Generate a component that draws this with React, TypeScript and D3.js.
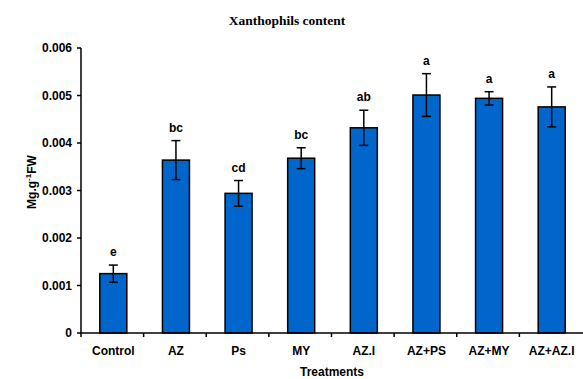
import React from "react";
import * as d3 from "d3";

const categories = ["Control", "AZ", "Ps", "MY", "AZ.I", "AZ+PS", "AZ+MY", "AZ+AZ.I"];
const values = [0.00125, 0.00364, 0.00294, 0.00368, 0.00432, 0.00501, 0.00494, 0.00476];
const errors = [0.00018, 0.00041, 0.00027, 0.00022, 0.00037, 0.00045, 0.00014, 0.00042];
const letters = ["e", "bc", "cd", "bc", "ab", "a", "a", "a"];
const yTicks = [0, 0.001, 0.002, 0.003, 0.004, 0.005, 0.006];
const yTickLabels = ["0", "0.001", "0.002", "0.003", "0.004", "0.005", "0.006"];

const W = 583;
const H = 379;
const left = 81;
const right = 582;
const top = 48;
const bottom = 333;

export default function App() {
  const x = d3.scaleBand<string>().domain(categories).range([left, right]).padding(0);
  const y = d3.scaleLinear().domain([0, 0.006]).range([bottom, top]);
  const bw = x.bandwidth();
  const barW = 27;
  const capW = 9;
  const sans = "Liberation Sans, Arial, sans-serif";
  return (
    <svg width={W} height={H} style={{ position: "absolute", left: 0, top: 0 }} fontFamily={sans}>
      <rect x={0} y={0} width={W} height={H} fill="#fff" />
      <text x={287} y={25} textAnchor="middle" fontFamily="Liberation Serif, Times New Roman, serif" fontWeight="bold" fontSize={13.5}>
        Xanthophils content
      </text>
      {/* bars */}
      {categories.map((c, i) => {
        const cx = (x(c) as number) + bw / 2 + 1;
        return (
          <g key={c}>
            <rect x={cx - barW / 2} y={y(values[i])} width={barW} height={bottom - y(values[i])} fill="#0066CC" stroke="#000" strokeWidth={1.5} />
            <line x1={cx} x2={cx} y1={y(values[i] + errors[i])} y2={y(values[i] - errors[i])} stroke="#000" strokeWidth={1.5} />
            <line x1={cx - capW / 2} x2={cx + capW / 2} y1={y(values[i] + errors[i])} y2={y(values[i] + errors[i])} stroke="#000" strokeWidth={1.5} />
            <line x1={cx - capW / 2} x2={cx + capW / 2} y1={y(values[i] - errors[i])} y2={y(values[i] - errors[i])} stroke="#000" strokeWidth={1.5} />
            <text x={cx} y={y(values[i] + errors[i]) - 9} textAnchor="middle" fontWeight="bold" fontSize={12}>
              {letters[i]}
            </text>
            <text x={cx} y={355} textAnchor="middle" fontWeight="bold" fontSize={12}>
              {c}
            </text>
          </g>
        );
      })}
      {/* y axis */}
      <line x1={left} x2={left} y1={top} y2={bottom} stroke="#000" strokeWidth={1.5} />
      {yTicks.map((t, i) => (
        <g key={t}>
          <line x1={left - 4} x2={left} y1={y(t)} y2={y(t)} stroke="#000" strokeWidth={1.5} />
          <text x={left - 9} y={y(t) + 4.3} textAnchor="end" fontWeight="bold" fontSize={12}>
            {yTickLabels[i]}
          </text>
        </g>
      ))}
      {/* x axis */}
      <line x1={left} x2={W} y1={bottom} y2={bottom} stroke="#000" strokeWidth={1.5} />
      {categories.map((c) => (
        <line key={"t" + c} x1={x(c) as number} x2={x(c) as number} y1={bottom} y2={bottom + 4} stroke="#000" strokeWidth={1.5} />
      ))}
      <text x={332} y={376} textAnchor="middle" fontWeight="bold" fontSize={12}>
        Treatments
      </text>
      <text transform="translate(36,182) rotate(-90)" textAnchor="middle" fontWeight="bold" fontSize={12}>
        Mg.g
        <tspan fontSize={8} dy={-5}>-1</tspan>
        <tspan dy={5}>FW</tspan>
      </text>
    </svg>
  );
}
